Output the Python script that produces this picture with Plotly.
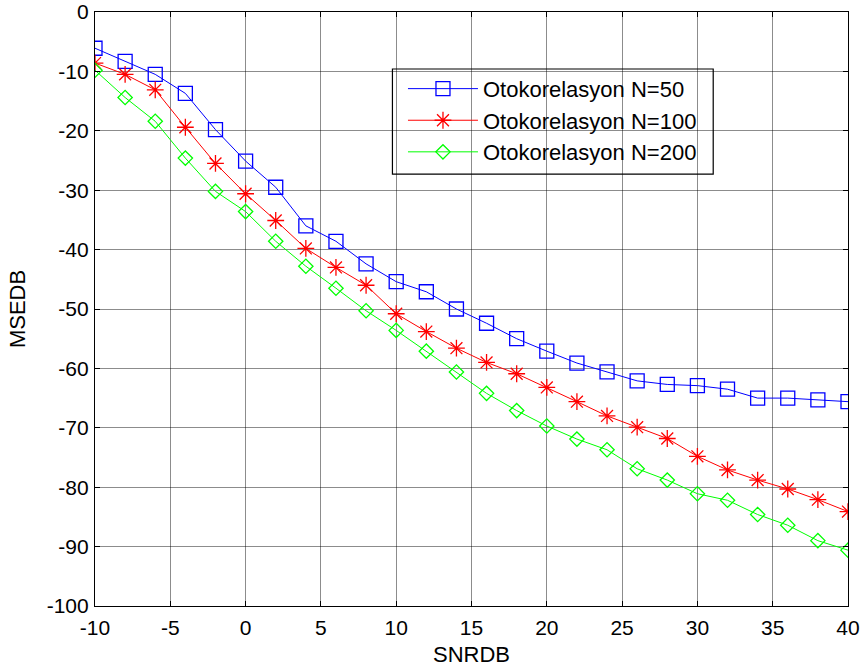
import plotly.graph_objects as go

# SNR sweep (dB) and the resulting mean-square error (dB) for each window length
snr_db = [-10, -8, -6, -4, -2, 0, 2, 4, 6, 8, 10, 12, 14, 16, 18, 20, 22, 24, 26,
          28, 30, 32, 34, 36, 38, 40]

mse_n50 = [-6.1, -8.3, -10.5, -13.7, -19.8, -25.1, -29.5, -36.0, -38.6, -42.4,
           -45.4, -47.1, -50.0, -52.4, -55.0, -57.1, -59.1, -60.6, -62.1, -62.7,
           -62.9, -63.5, -65.0, -65.0, -65.3, -65.6]

mse_n100 = [-8.6, -10.5, -13.1, -19.4, -25.5, -30.6, -35.1, -39.8, -43.0, -46.0,
            -50.8, -53.8, -56.6, -59.0, -60.9, -63.2, -65.6, -68.0, -69.9, -71.8,
            -74.8, -77.1, -78.8, -80.3, -82.1, -84.1]

mse_n200 = [-9.8, -14.4, -18.4, -24.6, -30.2, -33.6, -38.6, -42.8, -46.5, -50.3,
            -53.6, -57.1, -60.6, -64.2, -67.1, -69.7, -71.9, -73.7, -76.9, -78.8,
            -81.1, -82.2, -84.6, -86.4, -89.0, -90.6]

series_names = ["Otokorelasyon N=50", "Otokorelasyon N=100", "Otokorelasyon N=200"]
x_ticks = [-10, -5, 0, 5, 10, 15, 20, 25, 30, 35, 40]
y_ticks = [0, -10, -20, -30, -40, -50, -60, -70, -80, -90, -100]

FONT = "Liberation Sans, Arial, sans-serif"

fig = go.Figure()

fig.add_trace(go.Scatter(
    x=snr_db, y=mse_n50, name=series_names[0], mode="lines+markers",
    line=dict(color="#0000ff", width=1),
    marker=dict(symbol="square-open", size=14, color="#0000ff",
                line=dict(color="#0000ff", width=1.3)),
))
fig.add_trace(go.Scatter(
    x=snr_db, y=mse_n100, name=series_names[1], mode="lines+markers",
    line=dict(color="#ff0000", width=1),
    marker=dict(symbol="asterisk-open", size=14, color="#ff0000",
                line=dict(color="#ff0000", width=1.3)),
))
fig.add_trace(go.Scatter(
    x=snr_db, y=mse_n200, name=series_names[2], mode="lines+markers",
    line=dict(color="#00ff00", width=1),
    marker=dict(symbol="diamond-open", size=11, color="#00ff00",
                line=dict(color="#00ff00", width=1.3)),
))

axis_common = dict(
    showline=True, linecolor="black", linewidth=1.2, mirror="ticks",
    ticks="inside", ticklen=5, tickcolor="black", tickwidth=1,
    showgrid=True, gridcolor="rgba(0,0,0,0.45)", gridwidth=1,
    zeroline=False, automargin=False,
    tickfont=dict(family=FONT, size=21, color="black"),
)

fig.update_xaxes(
    range=[-10, 40], tickvals=x_ticks, ticktext=[str(v) for v in x_ticks],
    ticklabelstandoff=3,
    title=dict(text="SNRDB", font=dict(family=FONT, size=22, color="black"),
               standoff=8),
    **axis_common,
)
fig.update_yaxes(
    range=[-100, 0], tickvals=y_ticks, ticktext=[str(v) for v in y_ticks],
    ticklabelstandoff=1,
    title=dict(text="MSEDB", font=dict(family=FONT, size=22, color="black"),
               standoff=14),
    **axis_common,
)

# Legend frame
fig.add_shape(type="rect", xref="paper", yref="paper",
              x0=0.395, x1=0.821, y0=0.727, y1=0.904,
              line=dict(color="black", width=1.2), fillcolor="white", layer="below")

fig.update_layout(
    template="none",
    width=863, height=672,
    margin=dict(l=95, r=15, t=12, b=66),
    paper_bgcolor="white", plot_bgcolor="rgba(0,0,0,0)",
    font=dict(family=FONT, color="black"),
    legend=dict(
        x=0.409, y=0.906, xanchor="left", yanchor="top",
        bgcolor="rgba(0,0,0,0)", borderwidth=0,
        font=dict(family=FONT, size=22, color="black"),
        itemwidth=70,
    ),
)

fig.write_html("out.html")
